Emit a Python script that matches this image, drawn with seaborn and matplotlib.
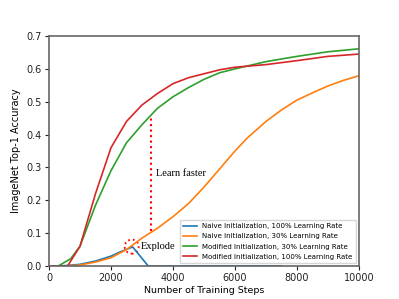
import matplotlib
matplotlib.use("Agg")
import matplotlib.pyplot as plt
from matplotlib.patches import Ellipse
import seaborn as sns
import pandas as pd

# ---------------- DATOS ---------------- #
pasos_naive_100 = [0, 500, 1000, 1500, 2000, 2300, 2700, 3200, 7500]
acc_naive_100 = [0.0, 0.001, 0.005, 0.015, 0.03, 0.043, 0.058, 0.0, 0.0]

pasos_naive_30 = [0, 500, 1000, 1500, 2000, 2500, 3000, 3500, 4000, 4500, 5000,
                  5500, 6000, 6400, 7000, 7500, 8000, 8500, 9000, 9500, 10000]
acc_naive_30 = [0.0, 0.0, 0.003, 0.012, 0.025, 0.05, 0.085, 0.115, 0.15, 0.19, 0.24,
                0.295, 0.35, 0.39, 0.44, 0.475, 0.505, 0.527, 0.548, 0.565, 0.579]

pasos_mod_30 = [0, 300, 700, 1000, 1500, 2000, 2500, 3000, 3500, 4000, 4500,
                5000, 5500, 6000, 7000, 8000, 9000, 10000]
acc_mod_30 = [0.0, 0.0, 0.022, 0.06, 0.185, 0.29, 0.375, 0.43, 0.48, 0.515, 0.543,
              0.568, 0.588, 0.600, 0.622, 0.638, 0.652, 0.661]

pasos_mod_100 = [0, 600, 1000, 1500, 2000, 2500, 3000, 3500, 4000, 4500, 5000,
                 5500, 6000, 7000, 8000, 9000, 10000]
acc_mod_100 = [0.0, 0.0, 0.06, 0.22, 0.36, 0.44, 0.49, 0.525, 0.555, 0.573, 0.585,
               0.597, 0.605, 0.613, 0.625, 0.638, 0.645]

etiquetas = ["Naive Initialization, 100% Learning Rate",
             "Naive Initialization, 30% Learning Rate",
             "Modified Initialization, 30% Learning Rate",
             "Modified Initialization, 100% Learning Rate"]
colores = ["#1f77b4", "#ff7f0e", "#2ca02c", "#d62728"]

series = [(pasos_naive_100, acc_naive_100), (pasos_naive_30, acc_naive_30),
          (pasos_mod_30, acc_mod_30), (pasos_mod_100, acc_mod_100)]

# ---------------- GRAFICO ---------------- #
fig = plt.figure(figsize=(3.99, 2.99), dpi=100)
ax = fig.add_axes([0.1228, 0.1104, 0.7769, 0.7692])

for (x, y), lab, c in zip(series, etiquetas, colores):
    df = pd.DataFrame({"x": x, "y": y})
    sns.lineplot(data=df, x="x", y="y", ax=ax, color=c, label=lab, linewidth=1.2)

ax.set_xlim(0, 10000)
ax.set_ylim(0, 0.7)
ax.set_xticks([0, 2000, 4000, 6000, 8000, 10000])
ax.set_yticks([0.0, 0.1, 0.2, 0.3, 0.4, 0.5, 0.6, 0.7])
ax.tick_params(labelsize=7, colors="#222222", length=3, pad=2)
ax.set_xlabel("Number of Training Steps", fontsize=6.8, labelpad=2)
ax.set_ylabel("ImageNet Top-1 Accuracy", fontsize=7, labelpad=4)
for s in ax.spines.values():
    s.set_color("#666666")
    s.set_linewidth(1.2)

# anotaciones
ax.plot([3280, 3280], [0.105, 0.46], color="red", linestyle=":", linewidth=1.5)
ax.text(3450, 0.283, "Learn faster", family="Liberation Serif", fontsize=7.5, va="center")
ax.add_patch(Ellipse((2667, 0.059), 450, 0.043, fill=False, edgecolor="red",
                     linestyle=":", linewidth=1.3))
ax.text(2970, 0.059, "Explode", family="Liberation Serif", fontsize=7.5, va="center")

ax.legend(loc="lower right", fontsize=5, handlelength=2, borderpad=0.5,
          labelspacing=0.6, framealpha=0.8, borderaxespad=0.4)

fig.savefig("out.png", dpi=100)
